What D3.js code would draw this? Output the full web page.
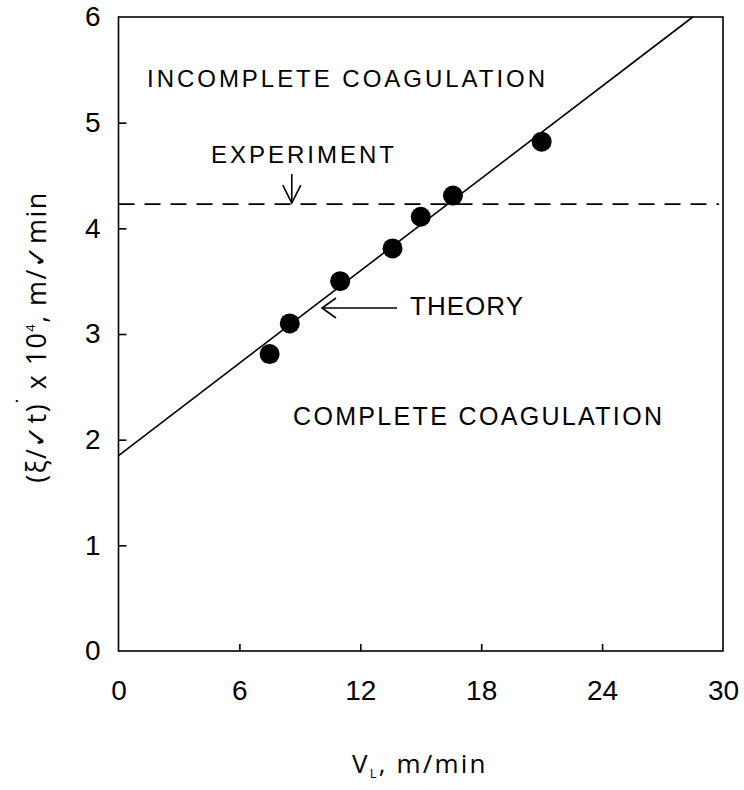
<!DOCTYPE html>
<html>
<head>
<meta charset="utf-8">
<script src="https://cdn.jsdelivr.net/npm/d3@7"></script>
<style>
  body { margin: 0; background: #fff; }
  svg { display: block; }
</style>
</head>
<body>
<svg id="chart" width="744" height="790"></svg>
<script>
// measured points (V_L, m/min  vs  (xi/sqrt t) x 10^4)
var velocity = [7.5, 8.5, 11.0, 13.6, 15.0, 16.6, 21.0];
var penetration = [2.81, 3.10, 3.50, 3.81, 4.11, 4.31, 4.82];

// theory line end points
var theoryV = [0, 28.5];
var theoryY = [1.85, 6.0];

// experimental threshold
var experimentY = 4.23;

var xTicks = [0, 6, 12, 18, 24, 30];
var yTicks = [0, 1, 2, 3, 4, 5, 6];

var svg = d3.select("#chart");
var plotLeft = 118.5, plotRight = 723, plotTop = 17, plotBottom = 651;

var x = d3.scaleLinear().domain([0, 30]).range([plotLeft, plotRight]);
var y = d3.scaleLinear().domain([0, 6]).range([plotBottom, plotTop]);

var labelFont = "'Liberation Sans', Arial, sans-serif";
var titleFont = "'Open Sans', sans-serif";

// frame
svg.append("rect")
    .attr("x", plotLeft).attr("y", plotTop)
    .attr("width", plotRight - plotLeft).attr("height", plotBottom - plotTop)
    .attr("fill", "none").attr("stroke", "#000").attr("stroke-width", 1.6);

// axes, ticks pointing inward
var yAxis = svg.append("g")
    .attr("transform", "translate(" + plotLeft + ",0)")
    .call(d3.axisLeft(y).tickValues(yTicks).tickSize(-8).tickPadding(18).tickFormat(d3.format("d")));

var xAxis = svg.append("g")
    .attr("transform", "translate(0," + plotBottom + ")")
    .call(d3.axisBottom(x).tickValues(xTicks).tickSize(-7).tickPadding(29).tickFormat(d3.format("d")));

[xAxis, yAxis].forEach(function(g) {
  g.select(".domain").remove();
  g.selectAll(".tick line").attr("stroke", "#000").attr("stroke-width", 1.6);
  g.selectAll(".tick text")
      .attr("font-family", labelFont)
      .attr("font-size", 28)
      .attr("fill", "#000");
});
// corner ticks sit on the frame itself
yAxis.selectAll(".tick line").filter(function(d) { return d === 0 || d === 6; }).remove();
xAxis.selectAll(".tick line").filter(function(d) { return d === 0 || d === 30; }).remove();

// experiment dashed line
svg.append("line")
    .attr("x1", x(0)).attr("x2", x(29.8))
    .attr("y1", y(experimentY)).attr("y2", y(experimentY))
    .attr("stroke", "#000").attr("stroke-width", 1.8)
    .attr("stroke-dasharray", "16,10");

// theory line
svg.append("path")
    .datum(d3.zip(theoryV, theoryY))
    .attr("d", d3.line().x(function(d) { return x(d[0]); }).y(function(d) { return y(d[1]); }))
    .attr("fill", "none").attr("stroke", "#000").attr("stroke-width", 1.6);

// data points
svg.selectAll("circle.pt")
    .data(d3.zip(velocity, penetration))
  .enter().append("circle")
    .attr("class", "pt")
    .attr("cx", function(d) { return x(d[0]); })
    .attr("cy", function(d) { return y(d[1]); })
    .attr("r", 10)
    .attr("fill", "#000");

// annotations
function label(txt, px, py, size, len) {
  svg.append("text")
      .attr("x", px).attr("y", py)
      .attr("font-family", labelFont)
      .attr("font-size", size)
      .attr("textLength", len)
      .attr("lengthAdjust", "spacing")
      .attr("fill", "#000")
      .text(txt);
}
label("INCOMPLETE COAGULATION", 147, 87, 24, 398);
label("EXPERIMENT", 211, 163, 24, 183);
label("THEORY", 410, 315, 26, 113);
label("COMPLETE COAGULATION", 293, 425, 25, 369);

var arrows = svg.append("g").attr("fill", "none").attr("stroke", "#000").attr("stroke-width", 1.6);
// experiment arrow (down onto the dashed line)
var ex = x(8.6), ey = y(experimentY) - 1;
arrows.append("path").attr("d", "M" + ex + "," + (ey - 29) + "V" + ey);
arrows.append("path").attr("d", "M" + (ex - 9) + "," + (ey - 18) + "L" + ex + "," + ey + "L" + (ex + 9) + "," + (ey - 18));
// theory arrow (left onto the line)
var tx = 322, ty = 308;
arrows.append("path").attr("d", "M" + tx + "," + ty + "H" + 397);
arrows.append("path").attr("d", "M" + (tx + 14) + "," + (ty - 10) + "L" + tx + "," + ty + "L" + (tx + 14) + "," + (ty + 10));

// axis titles
var xt = svg.append("text")
    .attr("x", 352).attr("y", 773)
    .attr("font-family", titleFont).attr("font-size", 26)
    .attr("letter-spacing", 2.2).attr("fill", "#000");
xt.append("tspan").text("V");
xt.append("tspan").attr("font-size", 13).attr("dy", 5).text("L");
xt.append("tspan").attr("dy", -5).text(", m/min");

var yt = svg.append("text")
    .attr("transform", "translate(46,337) rotate(-90)")
    .attr("text-anchor", "middle")
    .attr("font-family", titleFont).attr("font-size", 27)
    .attr("letter-spacing", 1.4).attr("fill", "#000");
yt.append("tspan").text("(ξ/✓t)");
yt.append("tspan").attr("dy", -14).attr("font-size", 22).text("˙");
yt.append("tspan").attr("dy", 14).text(" x 10");
yt.append("tspan").attr("dy", -11).attr("font-size", 13).text("4");
yt.append("tspan").attr("dy", 11).text(", m/✓min");
</script>
</body>
</html>
